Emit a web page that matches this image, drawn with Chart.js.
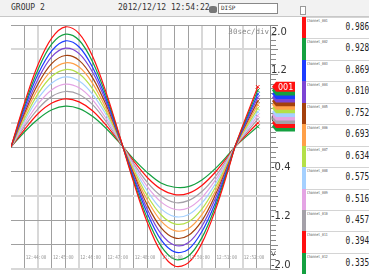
<!DOCTYPE html>
<html lang="en">
<head>
<meta charset="UTF-8">
<title>GROUP 2</title>
<script src="https://cdn.jsdelivr.net/npm/chart.js"></script>
<style>
  body { margin: 0; width: 369px; height: 276px; background: #fff; position: relative; overflow: hidden; font-family: 'DejaVu Sans Mono', monospace; }
  #header { position: absolute; left: 0; top: 0; width: 369px; height: 16px; background: #f2f2f2; border-bottom: 1px solid #c8c8c8; }
  #group { position: absolute; left: 11px; top: 3px; font-size: 8px; color: #333; }
  #clock { position: absolute; left: 118px; top: 3px; font-size: 8px; color: #333; }
  #disk { position: absolute; left: 209px; top: 6px; width: 8px; height: 7px; background: #777; border-radius: 3px / 2px; }
  #disp { position: absolute; left: 218px; top: 3px; width: 60px; height: 11px; background: #fff; border: 1px solid #888; box-sizing: border-box; }
  #disp span { position: absolute; left: 2px; top: 0px; font-size: 6px; color: #333; }
  #sd { position: absolute; left: 300px; top: 6px; width: 6px; height: 9px; border: 1px solid #999; box-sizing: border-box; background: #fff; }
  #chartBox { position: absolute; left: 0; top: 17px; }
  #panel { position: absolute; left: 302px; top: 17px; width: 67px; }
  .row { position: relative; height: 21.45px; }
  .row .line { position: absolute; left: 4px; right: 0; top: 0; border-top: 1px solid #d4d4d4; }
  .row .bar { position: absolute; left: 0; top: 0; bottom: 0; width: 4px; }
  .row .name { position: absolute; left: 5px; top: 1px; font-size: 4px; color: #555; transform: scaleX(0.78); transform-origin: left top; white-space: nowrap; }
  .row .val { position: absolute; right: 0; top: 4px; font-size: 10px; color: #222; transform: scaleX(0.78); transform-origin: right top; }
</style>
</head>
<body>
<div id="header">
  <div id="group">GROUP 2</div>
  <div id="clock">2012/12/12 12:54:22</div>
  <div id="disk"></div>
  <div id="disp"><span>DISP</span></div>
  <div id="sd"></div>
</div>
<div id="chartBox"><canvas id="trend" width="298" height="259"></canvas></div>
<div id="panel"></div>

<script>
// seconds after 12:43:30
const times = [0, 30, 60, 90, 120, 150, 180, 210, 240, 270, 300, 330, 360, 390, 420, 450, 480, 495, 543];

const channelNames = ['Channel_001', 'Channel_002', 'Channel_003', 'Channel_004', 'Channel_005', 'Channel_006',
                      'Channel_007', 'Channel_008', 'Channel_009', 'Channel_010', 'Channel_011', 'Channel_012'];
const currentValues = [0.986, 0.928, 0.869, 0.810, 0.752, 0.693, 0.634, 0.575, 0.516, 0.457, 0.394, 0.335];
const colors = ['#ff1010', '#14a040', '#1c3cff', '#7c44d4', '#a4400c', '#ffa048',
                '#b4e048', '#a4d0ff', '#e4a4e4', '#a4a0a8', '#ff1010', '#14a040'];

const ch001 = [0, 0.73, 1.36, 1.79, 1.97, 1.86, 1.48, 0.88, 0.16, -0.58, -1.24, -1.72, -1.95, -1.90, -1.58, -1.03, -0.33, 0.05, 0.986];
const ch002 = [0, 0.69, 1.28, 1.69, 1.85, 1.75, 1.39, 0.83, 0.15, -0.55, -1.17, -1.62, -1.84, -1.79, -1.49, -0.97, -0.31, 0.05, 0.928];
const ch003 = [0, 0.65, 1.20, 1.58, 1.74, 1.64, 1.30, 0.78, 0.14, -0.51, -1.09, -1.52, -1.72, -1.68, -1.39, -0.91, -0.29, 0.04, 0.869];
const ch004 = [0, 0.60, 1.12, 1.48, 1.62, 1.53, 1.22, 0.73, 0.13, -0.48, -1.02, -1.42, -1.61, -1.57, -1.30, -0.84, -0.27, 0.04, 0.810];
const ch005 = [0, 0.56, 1.04, 1.37, 1.50, 1.42, 1.13, 0.68, 0.12, -0.44, -0.95, -1.32, -1.49, -1.45, -1.21, -0.78, -0.25, 0.04, 0.752];
const ch006 = [0, 0.52, 0.96, 1.26, 1.38, 1.31, 1.04, 0.62, 0.12, -0.41, -0.87, -1.21, -1.37, -1.34, -1.11, -0.72, -0.23, 0.03, 0.693];
const ch007 = [0, 0.47, 0.88, 1.16, 1.27, 1.20, 0.95, 0.57, 0.11, -0.37, -0.80, -1.11, -1.26, -1.23, -1.02, -0.66, -0.21, 0.03, 0.634];
const ch008 = [0, 0.43, 0.80, 1.05, 1.15, 1.08, 0.86, 0.52, 0.10, -0.34, -0.72, -1.01, -1.14, -1.11, -0.92, -0.60, -0.19, 0.03, 0.575];
const ch009 = [0, 0.38, 0.71, 0.94, 1.03, 0.97, 0.77, 0.46, 0.09, -0.30, -0.65, -0.90, -1.02, -1.00, -0.83, -0.54, -0.17, 0.03, 0.516];
const ch010 = [0, 0.34, 0.63, 0.83, 0.91, 0.86, 0.69, 0.41, 0.08, -0.27, -0.58, -0.80, -0.91, -0.88, -0.73, -0.48, -0.15, 0.02, 0.457];
const ch011 = [0, 0.29, 0.55, 0.72, 0.79, 0.74, 0.59, 0.35, 0.07, -0.23, -0.50, -0.69, -0.78, -0.76, -0.63, -0.41, -0.13, 0.02, 0.394];
const ch012 = [0, 0.25, 0.46, 0.61, 0.67, 0.63, 0.50, 0.30, 0.06, -0.20, -0.42, -0.59, -0.66, -0.65, -0.54, -0.35, -0.11, 0.02, 0.335];
const series = [ch001, ch002, ch003, ch004, ch005, ch006, ch007, ch008, ch009, ch010, ch011, ch012];

// axis
const gridTimes = [];
for (let t = 0; t <= 570; t += 30) gridTimes.push(t);
const lightTimes = [60, 150, 240, 330, 420, 510];
const labelTimes = [30, 90, 150, 210, 270, 330, 390, 450, 510];
const timeLabels = ['12:44:00', '12:45:00', '12:46:00', '12:47:00', '12:48:00', '12:49:00', '12:50:00', '12:51:00', '12:52:00'];
const gridValues = [-2.0, -1.6, -1.2, -0.8, -0.4, 0, 0.4, 0.8, 1.2, 1.6, 2.0];
const lightValues = [1.6, 0.4, -0.8, -2.0];
const yLabelValues = [2.0, 1.2, 0.4, -0.4, -1.2, -2.0];
const yLabels = ['2.0', '1.2', '0.4', '-0.4', '-1.2', '-2.0'];

// channel list on the right
const panel = document.getElementById('panel');
channelNames.forEach((name, i) => {
    const row = document.createElement('div');
    row.className = 'row';
    row.innerHTML = `<div class="line"></div><div class="bar" style="background:${colors[i]}"></div>
        <div class="name">${name}</div><div class="val">${currentValues[i].toFixed(3)}</div>`;
    panel.appendChild(row);
});

const overlay = {
    id: 'overlay',
    afterDatasetsDraw(chart) {
        const {ctx, chartArea: a, scales: {x, y}} = chart;
        ctx.save();

        // scale dashes on right axis
        ctx.strokeStyle = '#8a8a8a';
        ctx.lineWidth = 1;
        for (let k = 0; k <= 50; k++) {
            const py = Math.round(y.getPixelForValue(-2 + k * 0.08)) + 0.5;
            ctx.beginPath();
            ctx.moveTo(a.right, py);
            ctx.lineTo(a.right + (k % 5 === 0 ? 8 : 6), py);
            ctx.stroke();
        }

        // y labels
        ctx.fillStyle = '#333';
        ctx.font = '10px "DejaVu Sans"';
        ctx.textAlign = 'left';
        ctx.textBaseline = 'alphabetic';
        yLabelValues.forEach((v, i) => {
            let py = y.getPixelForValue(v) - 1;
            if (i === 0) py += 10.5;
            ctx.fillStyle = '#fff';
            ctx.fillRect(a.right + 1, py - 7, ctx.measureText(yLabels[i]).width + 1, 8);
            ctx.fillStyle = '#333';
            ctx.fillText(yLabels[i], a.right + 1, py);
        });
        ctx.font = '7px "DejaVu Sans"';
        ctx.fillStyle = '#555';
        ctx.fillText('V', a.right + 1, a.bottom - 13);

        // time labels inside plot
        ctx.fillStyle = '#9a9a9a';
        labelTimes.forEach((t, i) => {
            const px = x.getPixelForValue(t) + 1;
            ctx.save();
            ctx.translate(px, a.bottom - 10);
            ctx.scale(0.78, 1);
            ctx.font = '5.5px "DejaVu Sans Mono"';
            ctx.fillText(timeLabels[i], 0, 0);
            ctx.restore();
        });

        // 30sec/div
        ctx.font = '7.5px "DejaVu Sans Mono"';
        ctx.fillStyle = '#888';
        ctx.textAlign = 'right';
        ctx.fillText('30sec/div', a.right - 1, a.top + 9);

        // value tags
        for (let i = series.length - 1; i >= 0; i--) {
            const s = series[i];
            const py = y.getPixelForValue(s[s.length - 1]);
            const x0 = a.right + 2;
            ctx.fillStyle = colors[i];
            ctx.beginPath();
            ctx.moveTo(x0, py);
            ctx.lineTo(x0 + 4, py - 5);
            ctx.lineTo(x0 + 23, py - 5);
            ctx.lineTo(x0 + 23, py + 5);
            ctx.lineTo(x0 + 4, py + 5);
            ctx.closePath();
            ctx.fill();
            if (i === 0) {
                ctx.fillStyle = '#fff';
                ctx.font = '8px "DejaVu Sans"';
                ctx.textAlign = 'left';
                ctx.fillText('001', x0 + 6, py + 3);
            }
        }
        ctx.restore();
    }
};

const datasets = series.map((s, i) => ({
    label: channelNames[i],
    data: s.map((v, k) => ({x: times[k], y: v})),
    borderColor: colors[i],
    backgroundColor: colors[i],
    borderWidth: 1.2,
    tension: 0.35,
    pointStyle: 'crossRot',
    pointRadius: s.map((v, k) => (k === s.length - 1 ? 2.5 : 0)),
    pointBorderWidth: 1
}));

new Chart(document.getElementById('trend'), {
    type: 'line',
    data: {datasets: datasets},
    options: {
        responsive: false,
        animation: false,
        layout: {padding: {left: 11, right: 28, top: 8, bottom: 7}},
        plugins: {legend: {display: false}, tooltip: {enabled: false}},
        scales: {
            x: {
                type: 'linear', min: 0, max: 570,
                afterBuildTicks: s => { s.ticks = gridTimes.map(v => ({value: v})); },
                ticks: {display: false},
                border: {display: false},
                grid: {
                    drawTicks: false,
                    color: c => {
                        const v = c.tick.value;
                        if (v === 0) return 'rgba(0,0,0,0)';
                        if (v === 570) return '#8a8a8a';
                        return lightTimes.includes(v) ? '#d8d8d8' : '#a0a0a0';
                    },
                    lineWidth: c => lightTimes.includes(c.tick.value) ? 2 : 1
                }
            },
            y: {
                min: -2, max: 2,
                afterBuildTicks: s => { s.ticks = gridValues.map(v => ({value: v})); },
                ticks: {display: false},
                border: {display: false},
                grid: {
                    drawTicks: false,
                    color: c => lightValues.some(v => Math.abs(v - c.tick.value) < 1e-6) ? '#d8d8d8' : '#a0a0a0',
                    lineWidth: c => lightValues.some(v => Math.abs(v - c.tick.value) < 1e-6) ? 2 : 1
                }
            }
        }
    },
    plugins: [overlay]
});
</script>
</body>
</html>
